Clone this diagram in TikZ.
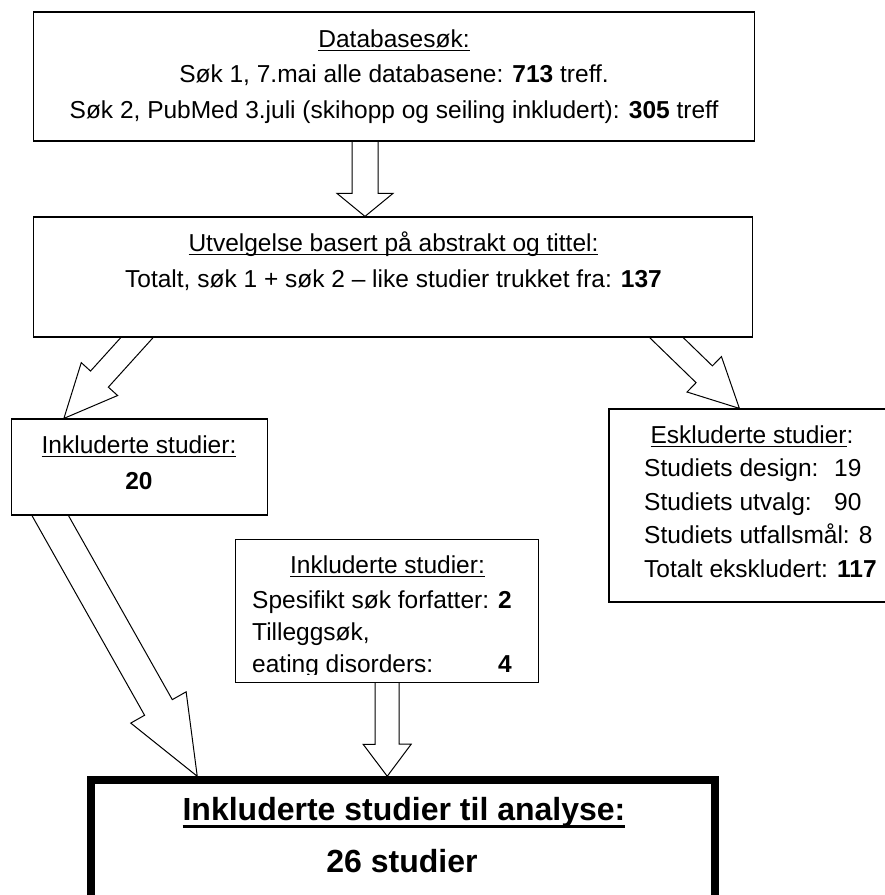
\documentclass[tikz,border=0pt]{standalone}
\usepackage{fontspec}
\setmainfont{Liberation Sans}
\usetikzlibrary{calc}
\usetikzlibrary{backgrounds}
\tikzset{
	boxstyle/.style={rectangle,draw=black,fill=white,line width=1.2pt},
	finalstyle/.style={rectangle,draw=black,fill=white,line width=7.5pt},
	textstyle/.style={inner sep=0pt,font=\fontsize{24.5}{36}\selectfont},
	bigstyle/.style={inner sep=0pt,font=\fontsize{32}{40}\selectfont\bfseries},
	hollowstyle/.style={draw=black,fill=white,line width=1pt,line join=miter}
}
\newcommand{\ul}[1]{\sbox0{#1}\rlap{\rule[-4pt]{\wd0}{1.3pt}}\usebox0}
\newcommand{\ulthick}[1]{\sbox0{#1}\rlap{\rule[-8pt]{\wd0}{3pt}}\usebox0}
\newcommand{\blockarrow}[5]{
	\coordinate (ba) at ($(#2)!#5!(#1)$);
	\draw[hollowstyle] ($(#1)!#3!90:(#2)$) -- ($(ba)!#3!-90:(#1)$) -- ($(ba)!#4!-90:(#1)$) -- (#2)
		-- ($(ba)!#4!90:(#1)$) -- ($(ba)!#3!90:(#1)$) -- ($(#1)!#3!-90:(#2)$) -- cycle;
}

\begin{document}
\begin{tikzpicture}[x=1pt,y=-1pt]
	\useasboundingbox (0,0) rectangle (885,895);
	\clip (0,0) rectangle (885,895);
	\node[boxstyle,minimum width=721pt,minimum height=129pt] (db) at (394,76.5) {};
	\node[boxstyle,minimum width=719pt,minimum height=120pt] (select) at (393,277) {};
	\node[boxstyle,minimum width=256pt,minimum height=96pt] (incl) at (139.5,467) {};
	\node[boxstyle,minimum width=303pt,minimum height=143pt] (extra) at (387,611) {};
	\node[boxstyle,minimum width=290pt,minimum height=193pt] (excl) at (754,505.5) {};
	\node[finalstyle,minimum width=624pt,minimum height=150pt] (final) at (403,855) {};
	\node[textstyle,anchor=base,align=center,font=\fontsize{24.5}{35.5}\selectfont] (dbtext) at (394,118) {\ul{Databasesøk:}\\Søk 1, 7.mai alle databasene: \textbf{713} treff.\\Søk 2, PubMed 3.juli (skihopp og seiling inkludert): \textbf{305} treff};
	\node[textstyle,anchor=base,align=center] (selecttext) at (393.5,287) {\ul{Utvelgelse basert på abstrakt og tittel:}\\Totalt, søk 1 + søk 2 – like studier trukket fra: \textbf{137}};
	\node[textstyle,anchor=base,align=center] (incltext) at (139,489) {\ul{Inkluderte studier:}\\\textbf{20}};
	\node[textstyle,anchor=base] (excltitle) at (752,443) {\ul{Eskluderte studier}:};
	\node[textstyle,anchor=base west,align=left,font=\fontsize{24.5}{33.5}\selectfont] (excltext) at (644,577) {\makebox[190pt][l]{Studiets design:}19\\\makebox[190pt][l]{Studiets utvalg:}90\\Studiets utfallsmål: 8\\Totalt ekskludert: \textbf{117}};
	\begin{scope}
		\clip (236,540) rectangle (538,674);
		\node[textstyle,anchor=base] (extratitle) at (387.5,573) {\ul{Inkluderte studier:}};
		\node[textstyle,anchor=base west,align=left,font=\fontsize{24.5}{32}\selectfont] (extratext) at (252,672) {\makebox[246pt][l]{Spesifikt søk forfatter:}\textbf{2}\\Tilleggsøk,\\\makebox[246pt][l]{eating disorders:}\textbf{4}};
	\end{scope}
	\node[bigstyle,anchor=base] (finaltitle) at (404,820) {\ulthick{Inkluderte studier til analyse:}};
	\node[bigstyle,anchor=base] (finaltext) at (402,872) {26 studier};
	\begin{scope}[on background layer]
		\coordinate (a1s) at ($(db.south)+(-29,-8)$);
		\coordinate (a1t) at ($(select.north)+(-28,0)$);
		\coordinate (a2s) at ($(select.south west)+(114,-11)$);
		\coordinate (a2t) at ($(incl.north west)+(53,0)$);
		\coordinate (a3s) at ($(select.south east)+(-98,-11)$);
		\coordinate (a3t) at ($(excl.north west)+(131,0)$);
		\coordinate (a4s) at ($(incl.south west)+(32,-13)$);
		\coordinate (a4t) at ($(final.north west)+(110,0)$);
		\coordinate (a5s) at ($(extra.south)+(0,-6)$);
		\coordinate (a5t) at ($(final.north west)+(300,0)$);
		\blockarrow{a1s}{a1t}{13pt}{28pt}{23pt}
		\blockarrow{a2s}{a2t}{12pt}{24.5pt}{53pt}
		\blockarrow{a3s}{a3t}{11.7pt}{24.7pt}{49pt}
		\blockarrow{a4s}{a4t}{15.9pt}{31.8pt}{79pt}
		\blockarrow{a5s}{a5t}{12pt}{24pt}{32pt}
	\end{scope}
\end{tikzpicture}
\end{document}
